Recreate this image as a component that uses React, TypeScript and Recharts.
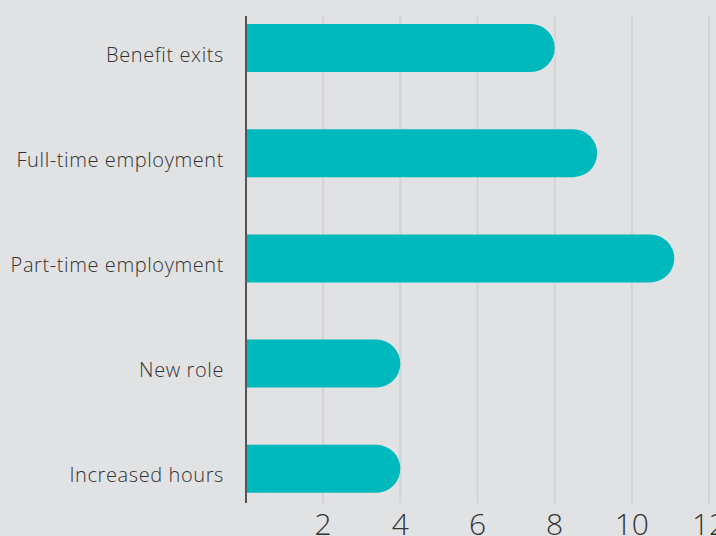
import React from "react";
import { BarChart, Bar, XAxis, YAxis, CartesianGrid } from "recharts";

const categories = [
  "Benefit exits",
  "Full-time employment",
  "Part-time employment",
  "New role",
  "Increased hours",
];
const values = [8, 9.1, 11.1, 4, 4];
const xTicks = [2, 4, 6, 8, 10, 12];

const data = categories.map((name, i) => ({ name, value: values[i] }));

const FONT = "'Open Sans', 'DejaVu Sans', sans-serif";

const YTick = (props: any) => {
  const { x, y, payload } = props;
  return (
    <text
      x={x - 22}
      y={y}
      dy={14}
      textAnchor="end"
      fontFamily={FONT}
      fontSize={20}
      fontWeight={300}
      letterSpacing={0.6}
      fill="#333"
    >
      {payload.value}
    </text>
  );
};

const XTick = (props: any) => {
  const { x, y, payload } = props;
  return (
    <text
      x={x}
      y={y}
      dy={32}
      textAnchor="middle"
      fontFamily={FONT}
      fontSize={30}
      fontWeight={300}
      fill="#333"
    >
      {payload.value}
    </text>
  );
};

export default function App() {
  return (
    <div
      style={{
        position: "absolute",
        left: 0,
        top: 0,
        width: 716,
        height: 536,
        background: "#e1e2e4",
        overflow: "hidden",
      }}
    >
      <BarChart
        width={716}
        height={536}
        data={data}
        layout="vertical"
        margin={{ top: 16, right: 7, bottom: 0, left: 0 }}
      >
        <CartesianGrid
          horizontal={false}
          vertical={true}
          stroke="#d1d3d5"
          strokeWidth={2}
        />
        <XAxis
          type="number"
          domain={[0, 12]}
          ticks={xTicks}
          axisLine={false}
          tickLine={false}
          tickSize={0}
          tickMargin={0}
          height={33}
          tick={<XTick />}
          interval={0}
        />
        <YAxis
          type="category"
          dataKey="name"
          width={246}
          axisLine={{ stroke: "#555", strokeWidth: 2 }}
          tickLine={false}
          tickSize={0}
          tickMargin={0}
          padding={{ top: -21, bottom: -18 }}
          tick={<YTick />}
          interval={0}
        />
        <Bar
          dataKey="value"
          fill="#00b9bd"
          barSize={48}
          radius={[0, 24, 24, 0]}
          isAnimationActive={false}
        />
      </BarChart>
    </div>
  );
}
